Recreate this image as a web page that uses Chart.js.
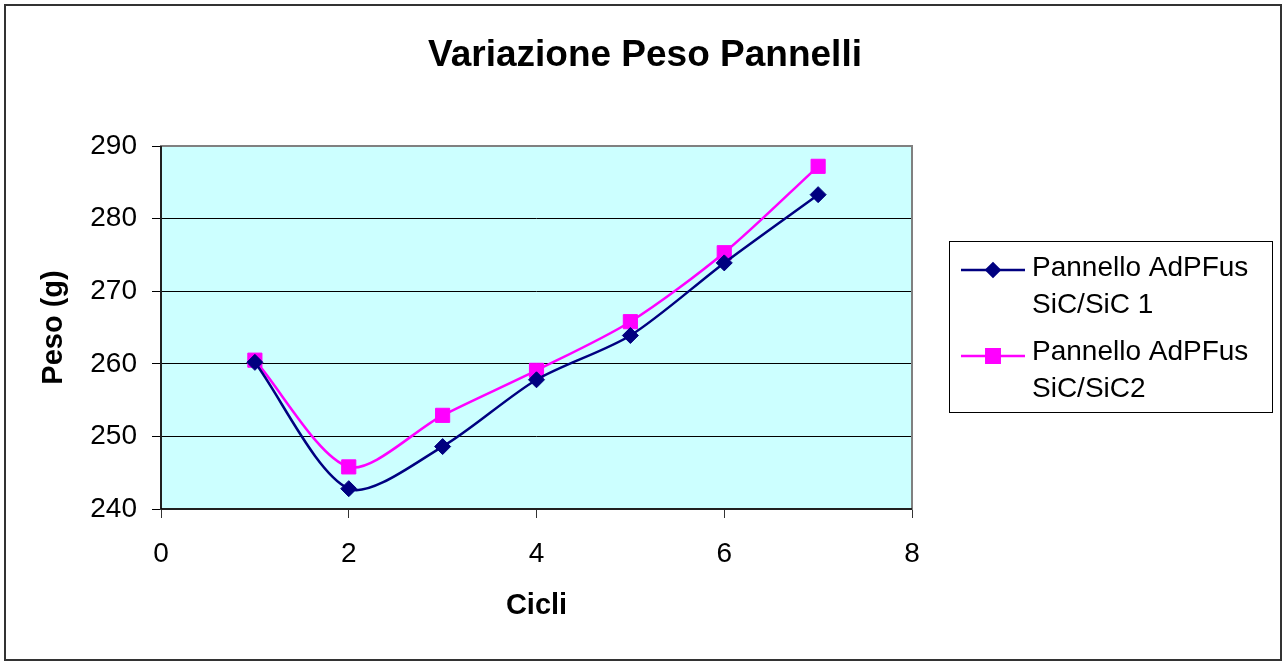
<!DOCTYPE html>
<html>
<head>
<meta charset="utf-8">
<script src="https://cdn.jsdelivr.net/npm/chart.js@4.4.1/dist/chart.umd.min.js"></script>
<style>
body{margin:0;background:#fff}
</style>
</head>
<body>
<canvas id="pesoChart" width="1283" height="662"></canvas>
<script>
const cicli = [1,2,3,4,5,6,7]
const pannello1 = [260.2,242.8,248.6,257.8,263.9,273.9,283.3]
const pannello2 = [260.5,245.8,252.9,259.1,265.8,275.3,287.2]
const xTicks = [0,2,4,6,8]
const yTicks = [240,250,260,270,280,290]
const titolo = 'Variazione Peso Pannelli'
const nomi = [
['Pannello AdPFus','SiC/SiC 1'],
['Pannello AdPFus','SiC/SiC2']
]

const FONT = 'Liberation Sans'

// plot background, plot frame, outer frame, title and the boxed legend
const cornice = {
id:'cornice',
beforeDraw(chart){
const {ctx,chartArea:a} = chart
ctx.save()
ctx.fillStyle='#fff'
ctx.fillRect(0,0,chart.width,chart.height)
ctx.fillStyle='#ccffff'
ctx.fillRect(a.left,a.top,a.right-a.left,a.bottom-a.top)
ctx.restore()
},
beforeDatasetsDraw(chart){
const {ctx,chartArea:a} = chart
ctx.save()
ctx.strokeStyle='#808080'
ctx.lineWidth=2
ctx.strokeRect(a.left,a.top,a.right-a.left,a.bottom-a.top)
ctx.strokeStyle='#000'
ctx.lineWidth=1.5
ctx.beginPath()
ctx.moveTo(a.left,a.top)
ctx.lineTo(a.left,a.bottom)
ctx.lineTo(a.right,a.bottom)
ctx.stroke()
ctx.restore()
},
afterDraw(chart){
const ctx = chart.ctx
ctx.save()
// outer frame
ctx.strokeStyle='#333'
ctx.lineWidth=2
ctx.strokeRect(5,5,1276,655)

// title
ctx.fillStyle='#000'
ctx.font='bold 37px "'+FONT+'"'
ctx.textAlign='center'
ctx.textBaseline='alphabetic'
ctx.fillText(titolo,645,66)

// legend
ctx.strokeStyle='#000'
ctx.lineWidth=1
ctx.strokeRect(949.5,241.5,323,171)
ctx.font='28px "'+FONT+'"'
ctx.textAlign='left'
const righe = [[270,276],[356,360]]
chart.data.datasets.forEach((ds,i)=>{
const [ly,by] = righe[i]
ctx.strokeStyle=ds.borderColor
ctx.lineWidth=2.5
ctx.beginPath()
ctx.moveTo(961,ly)
ctx.lineTo(1025,ly)
ctx.stroke()
ctx.fillStyle=ds.backgroundColor
ctx.strokeStyle=ds.borderColor
Chart.helpers.drawPoint(ctx,{
pointStyle:ds.pointStyle,
radius:i===0?6.5:9.5,
rotation:0,
borderWidth:1
},993,ly)
ctx.fillStyle='#000'
nomi[i].forEach((t,k)=>{
ctx.fillText(t,1032,by+k*37)
})
})
ctx.restore()
}
}

new Chart(document.getElementById('pesoChart'),{
type:'line',
data:{
datasets:[{
label:nomi[0].join(' '),
data:cicli.map((c,i)=>({x:c,y:pannello1[i]})),
borderColor:'#000080',
backgroundColor:'#000080',
borderWidth:2.5,
pointStyle:'rectRot',
pointRadius:8,
pointHoverRadius:8,
pointBorderWidth:1,
tension:0.28
},
{
label:nomi[1].join(' '),
data:cicli.map((c,i)=>({x:c,y:pannello2[i]})),
borderColor:'#ff00ff',
backgroundColor:'#ff00ff',
borderWidth:2.5,
pointStyle:'rect',
pointRadius:10,
pointHoverRadius:10,
pointBorderWidth:1,
tension:0.28
}]
},
options:{
responsive:false,
devicePixelRatio:1,
animation:false,
layout:{
padding:{top:146,left:37,right:371,bottom:39}
},
plugins:{
legend:{display:false},
title:{display:false},
tooltip:{enabled:false}
},
scales:{
x:{
type:'linear',
min:xTicks[0],
max:xTicks[xTicks.length-1],
afterFit(s){s.height=114},
ticks:{
stepSize:xTicks[1]-xTicks[0],
color:'#000',
padding:19,
font:{family:FONT,size:28}
},
grid:{
drawOnChartArea:false,
tickLength:9,
color:'#333'
},
border:{display:false},
title:{
display:true,
text:'Cicli',
color:'#000',
padding:0,
font:{family:FONT,size:29,weight:'bold'}
}
},
y:{
min:yTicks[0],
max:yTicks[yTicks.length-1],
afterFit(s){s.width=124},
ticks:{
stepSize:yTicks[1]-yTicks[0],
color:'#000',
padding:15,
font:{family:FONT,size:28}
},
grid:{
color:'#000',
lineWidth:1,
tickLength:9
},
border:{display:false},
title:{
display:true,
text:'Peso (g)',
color:'#000',
padding:0,
font:{family:FONT,size:29,weight:'bold'}
}
}
}
},
plugins:[cornice]
})
</script>
</body>
</html>
